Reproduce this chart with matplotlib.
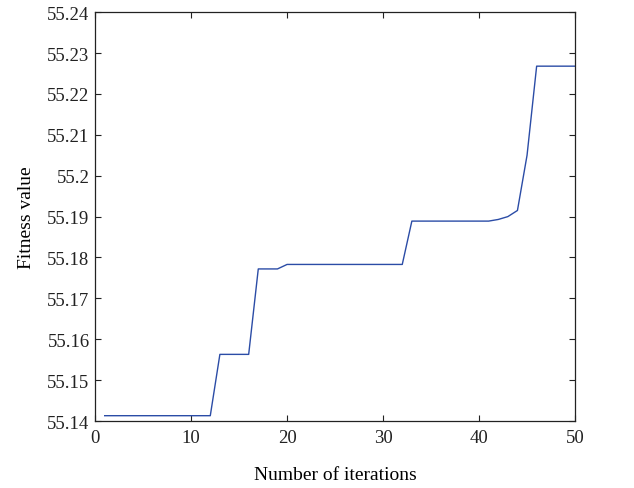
import matplotlib
matplotlib.use("Agg")
import matplotlib.pyplot as plt
import numpy as np

# fitness value per iteration
iterations = list(range(1, 51))
fitness = (
    [55.1413] * 12
    + [55.1563] * 4
    + [55.1772] * 3
    + [55.1783] * 13
    + [55.1889] * 9
    + [55.1893, 55.1900, 55.1915, 55.2050]
    + [55.2268] * 5
)

x_ticks = [0, 10, 20, 30, 40, 50]
y_ticks = [55.14, 55.15, 55.16, 55.17, 55.18, 55.19, 55.20, 55.21, 55.22, 55.23, 55.24]
y_labels = ["55.14", "55.15", "55.16", "55.17", "55.18", "55.19", "55.2",
            "55.21", "55.22", "55.23", "55.24"]

plt.rcParams["font.family"] = ["Liberation Serif", "DejaVu Serif"]

fig = plt.figure(figsize=(6.34, 4.89), dpi=100)
ax = fig.add_axes([0.150, 0.137, 0.757, 0.836])
ax.plot(iterations, fitness, color="#2b4ca6", linewidth=1.0)

ax.set_xlim(0, 50)
ax.set_ylim(55.14, 55.24)
ax.set_xticks(x_ticks)
ax.set_yticks(y_ticks)
ax.set_yticklabels(y_labels)
ax.tick_params(direction="in", top=True, right=True, length=4, width=0.8,
               labelsize=13.5, colors="#222222")
ax.tick_params(axis="x", pad=6)
ax.tick_params(axis="y", pad=4)
for spine in ax.spines.values():
    spine.set_linewidth(0.9)
    spine.set_color("#222222")

ax.set_xlabel("Number of iterations", fontsize=14, labelpad=14)
ax.set_ylabel("Fitness value", fontsize=14, labelpad=9)

fig.savefig("out.png", dpi=100)
